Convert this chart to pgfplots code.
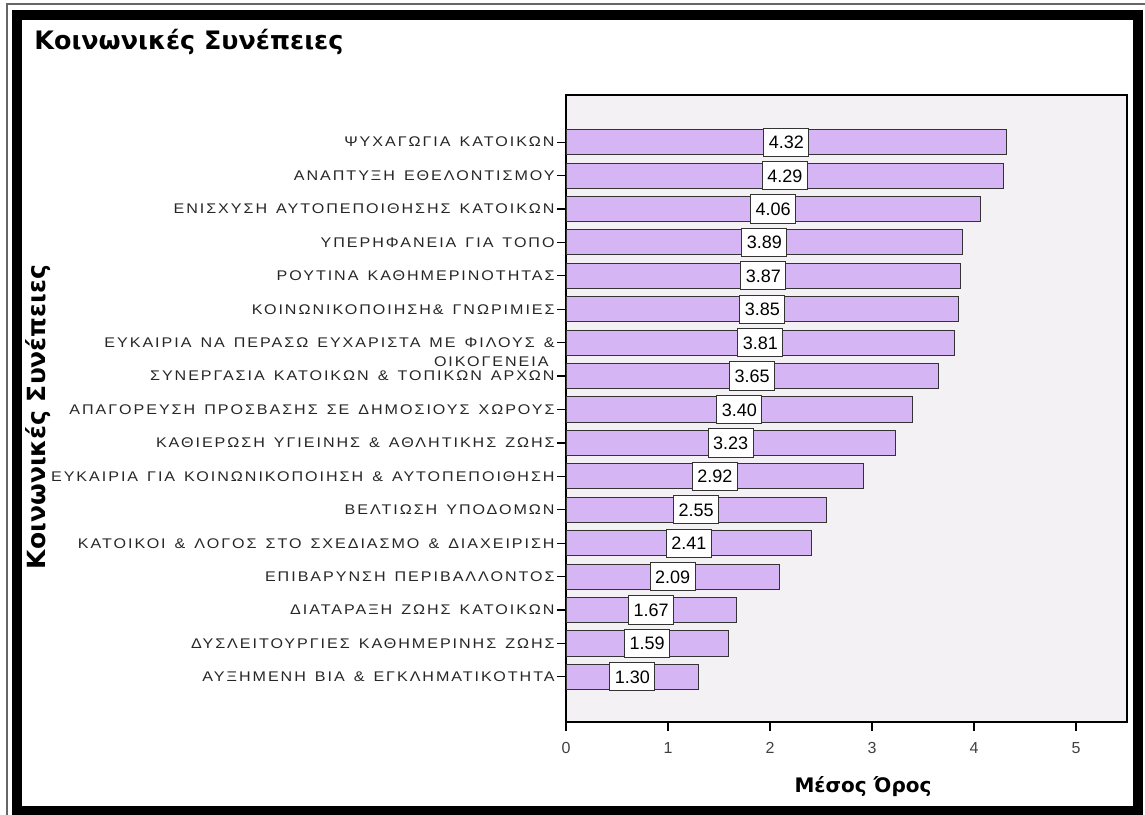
\documentclass[border=0pt]{standalone}
\usepackage{fontspec}
\setmainfont{Liberation Sans}
\newfontfamily\dejavu{DejaVu Sans}
\newfontfamily\labfont[FakeStretch=1.15,LetterSpace=14,WordSpace=1.4]{Liberation Sans}
\usepackage{pgfplots}
\usepackage{pgfplotstable}
\pgfplotsset{compat=1.18}
\definecolor{BarFill}{HTML}{D6B5F4}
\definecolor{PlotBg}{HTML}{F3F1F4}

% y = position from the top, v = mean
\pgfplotstableread{
y v
0 4.32
1 4.29
2 4.06
3 3.89
4 3.87
5 3.85
6 3.81
7 3.65
8 3.40
9 3.23
10 2.92
11 2.55
12 2.41
13 2.09
14 1.67
15 1.59
16 1.30
}\means

\begin{document}
\begin{tikzpicture}
\path[use as bounding box] (0pt,0pt) rectangle (572.5pt,407pt);
% double frame
\draw[black!60, line width=0.8pt] (3.5pt,-2pt) -- (3.5pt,405pt) -- (575pt,405pt);
\draw[black, line width=5pt] (8.5pt,1.5pt) rectangle (569pt,399.5pt);

\node[anchor=base west, inner sep=0pt, font=\dejavu\bfseries\fontsize{12.7}{15}\selectfont] at (17pt,382pt) {Κοινωνικές Συνέπειες};

\begin{axis}[
  at={(283pt,46pt)}, anchor=south west,
  scale only axis, width=280.5pt, height=313.5pt,
  xmin=0, xmax=5.5,
  ymin=-1.41, ymax=17.35, y dir=reverse,
  xtick={0,1,2,3,4,5},
  ytick={0,1,...,16},
  yticklabels={
    ΨΥΧΑΓΩΓΙΑ ΚΑΤΟΙΚΩΝ,
    ΑΝΑΠΤΥΞΗ ΕΘΕΛΟΝΤΙΣΜΟΥ,
    ΕΝΙΣΧΥΣΗ ΑΥΤΟΠΕΠΟΙΘΗΣΗΣ ΚΑΤΟΙΚΩΝ,
    ΥΠΕΡΗΦΑΝΕΙΑ ΓΙΑ ΤΟΠΟ,
    ΡΟΥΤΙΝΑ ΚΑΘΗΜΕΡΙΝΟΤΗΤΑΣ,
    ΚΟΙΝΩΝΙΚΟΠΟΙΗΣΗ\& ΓΝΩΡΙΜΙΕΣ,
    {ΕΥΚΑΙΡΙΑ ΝΑ ΠΕΡΑΣΩ ΕΥΧΑΡΙΣΤΑ ΜΕ ΦΙΛΟΥΣ \&\llap{\smash{\raisebox{-1.35em}{ΟΙΚΟΓΕΝΕΙΑ\hspace{3pt}}}}},
    ΣΥΝΕΡΓΑΣΙΑ ΚΑΤΟΙΚΩΝ \& ΤΟΠΙΚΩΝ ΑΡΧΩΝ,
    ΑΠΑΓΟΡΕΥΣΗ ΠΡΟΣΒΑΣΗΣ ΣΕ ΔΗΜΟΣΙΟΥΣ ΧΩΡΟΥΣ,
    ΚΑΘΙΕΡΩΣΗ ΥΓΙΕΙΝΗΣ \& ΑΘΛΗΤΙΚΗΣ ΖΩΗΣ,
    ΕΥΚΑΙΡΙΑ ΓΙΑ ΚΟΙΝΩΝΙΚΟΠΟΙΗΣΗ \& ΑΥΤΟΠΕΠΟΙΘΗΣΗ,
    ΒΕΛΤΙΩΣΗ ΥΠΟΔΟΜΩΝ,
    ΚΑΤΟΙΚΟΙ \& ΛΟΓΟΣ ΣΤΟ ΣΧΕΔΙΑΣΜΟ \& ΔΙΑΧΕΙΡΙΣΗ,
    ΕΠΙΒΑΡΥΝΣΗ ΠΕΡΙΒΑΛΛΟΝΤΟΣ,
    ΔΙΑΤΑΡΑΞΗ ΖΩΗΣ ΚΑΤΟΙΚΩΝ,
    ΔΥΣΛΕΙΤΟΥΡΓΙΕΣ ΚΑΘΗΜΕΡΙΝΗΣ ΖΩΗΣ,
    ΑΥΞΗΜΕΝΗ ΒΙΑ \& ΕΓΚΛΗΜΑΤΙΚΟΤΗΤΑ},
  xtick pos=bottom, ytick pos=left,
  tick align=outside, major tick length=4.5pt,
  tick style={black, line width=0.6pt},
  x tick label style={font=\fontsize{8}{9}\selectfont, text=black!75, yshift=-2pt},
  y tick label style={font=\labfont\fontsize{7}{8.5}\selectfont, inner sep=1pt, text=black!85},
  /pgf/number format/assume math mode=true,
  axis line style={line width=0.8pt},
  axis background/.style={fill=PlotBg},
]
\addplot[xbar, bar width=0.75, fill=BarFill, draw=black!80, line width=0.5pt]
  table[x=v, y=y] {\means};
\addplot[only marks, mark=none, point meta=explicit symbolic, nodes near coords,
  nodes near coords style={anchor=center, fill=white, draw=black!80, line width=0.5pt,
    inner xsep=2.5pt, inner ysep=3.8pt, text height=6.5pt, text depth=0pt,
    font=\fontsize{9}{10}\selectfont}]
  table[x expr=\thisrow{v}/2, y=y, meta=v] {\means};
\end{axis}

\node[rotate=90, font=\dejavu\bfseries\fontsize{12.5}{15}\selectfont] at (19pt,198.5pt) {Κοινωνικές Συνέπειες};
\node[font=\dejavu\bfseries\fontsize{10}{12}\selectfont] at (431.5pt,13.5pt) {Μέσος Όρος};
\end{tikzpicture}
\end{document}
